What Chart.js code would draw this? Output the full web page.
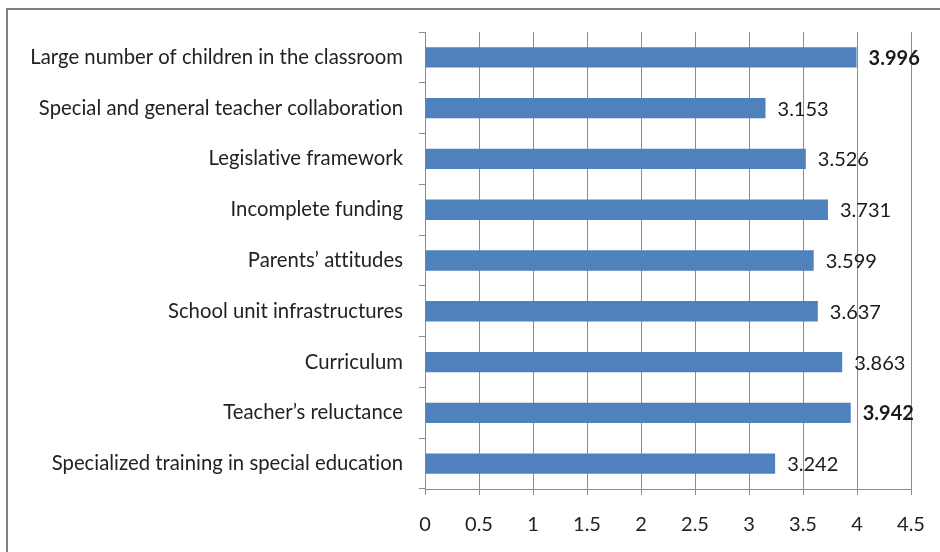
<!DOCTYPE html>
<html>
<head>
<meta charset="utf-8">
<script src="https://cdn.jsdelivr.net/npm/chart.js@4/dist/chart.umd.min.js"></script>
<style>
  html, body { margin: 0; padding: 0; background: #fff; }
  #wrap { width: 940px; height: 552px; position: relative; }
</style>
</head>
<body>
<div id="wrap"><canvas id="barrierChart" width="940" height="552"></canvas></div>
<script>
// ---------- DATA ----------
const categories = [
  "Large number of children in the classroom",
  "Special and general teacher collaboration",
  "Legislative framework",
  "Incomplete funding",
  "Parents’ attitudes",
  "School unit infrastructures",
  "Curriculum",
  "Teacher’s reluctance",
  "Specialized training in special education"
];
const values = [3.996, 3.153, 3.526, 3.731, 3.599, 3.637, 3.863, 3.942, 3.242];
const xTicks = [0, 0.5, 1, 1.5, 2, 2.5, 3, 3.5, 4, 4.5];

// the two highest scores are printed in bold
const topTwo = [...values].sort((a, b) => b - a).slice(0, 2);

const FONT = "Lato, Carlito, Calibri, sans-serif";

// frame around the whole figure (+ no ligatures, like the original)
const framePlugin = {
  id: "frame",
  beforeDraw(chart) {
    const ctx = chart.ctx;
    ctx.letterSpacing = "0.01px";
    ctx.save();
    ctx.strokeStyle = "#7f7f7f";
    ctx.lineWidth = 2;
    ctx.strokeRect(7, 9, 1000, 1000);
    ctx.restore();
  },
};

// value labels at bar ends
const valueLabels = {
  id: "valueLabels",
  afterDatasetsDraw(chart) {
    const ctx = chart.ctx;
    const meta = chart.getDatasetMeta(0);
    ctx.save();
    ctx.fillStyle = "#1a1a1a";
    ctx.textAlign = "left";
    ctx.textBaseline = "middle";
    meta.data.forEach((bar, i) => {
      const v = values[i];
      const bold = topTwo.includes(v);
      ctx.font = (bold ? "bold " : "") + "20px " + FONT;
      ctx.fillText(v.toFixed(3), bar.x + 12, bar.y + 1);
    });
    ctx.restore();
  },
};

const ctx = document.getElementById("barrierChart").getContext("2d");
new Chart(ctx, {
  type: "bar",
  data: {
    labels: categories,
    datasets: [
      {
        data: values,
        backgroundColor: "#4f81bd",
        borderWidth: 0,
        barPercentage: 0.4,
        categoryPercentage: 1,
      },
    ],
  },
  options: {
    indexAxis: "y",
    responsive: false,
    animation: false,
    layout: { padding: { top: 32, right: 29, left: 0, bottom: 0 } },
    plugins: { legend: { display: false }, tooltip: { enabled: false } },
    scales: {
      x: {
        min: 0,
        max: 4.5,
        afterBuildTicks: (scale) => {
          scale.ticks = xTicks.map((v) => ({ value: v }));
        },
        afterFit: (scale) => {
          scale.height = 63;
          scale.paddingLeft = 0;
          scale.paddingRight = 0;
        },
        ticks: {
          color: "#222",
          font: { family: FONT, size: 20 },
          padding: 18,
          callback: (v) => String(v),
        },
        grid: { color: "#8c8c8c", lineWidth: 1, tickLength: 6 },
        border: { color: "#8c8c8c", width: 1 },
      },
      y: {
        afterFit: (scale) => {
          scale.width = 425;
        },
        ticks: {
          color: "#222",
          font: { family: FONT, size: 20.3 },
          padding: 16,
        },
        grid: { drawOnChartArea: false, color: "#8c8c8c", tickLength: 6, offset: true },
        border: { color: "#8c8c8c", width: 1 },
      },
    },
  },
  plugins: [framePlugin, valueLabels],
});
</script>
</body>
</html>
